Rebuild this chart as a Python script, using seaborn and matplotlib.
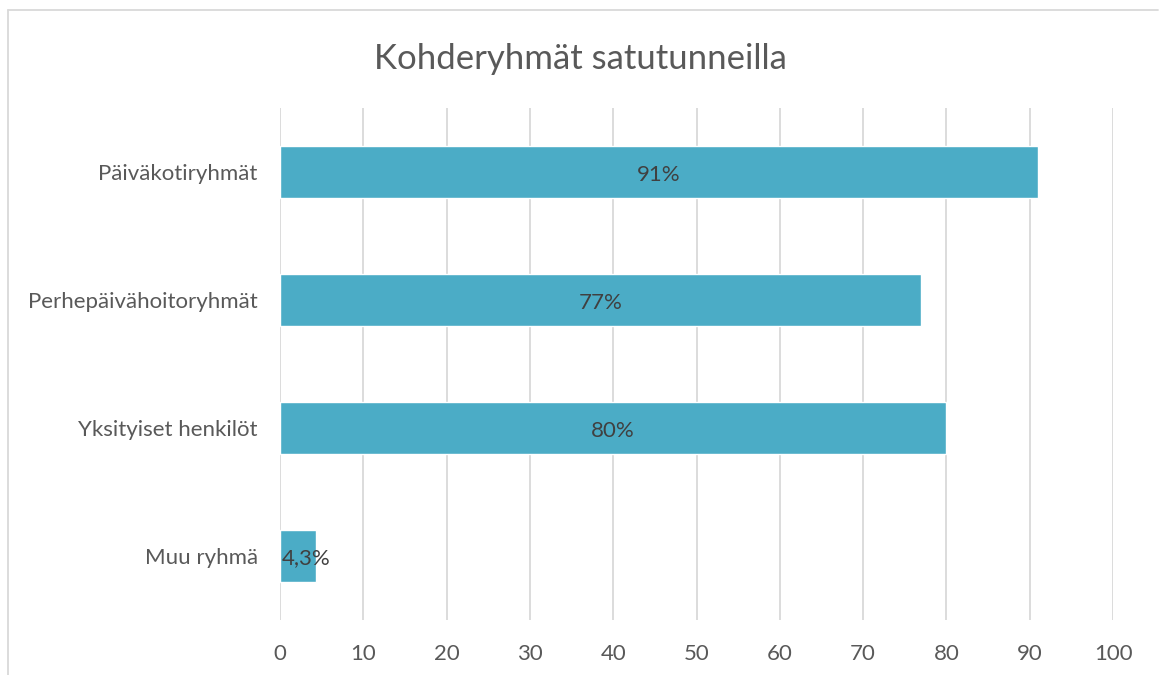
import matplotlib
matplotlib.use("Agg")
import matplotlib.pyplot as plt
import seaborn as sns
import pandas as pd
from matplotlib.lines import Line2D

categories = ["Päiväkotiryhmät", "Perhepäivähoitoryhmät", "Yksityiset henkilöt", "Muu ryhmä"]
values = [91, 77, 80, 4.3]
value_labels = ["91%", "77%", "80%", "4,3%"]
xticks = [0, 10, 20, 30, 40, 50, 60, 70, 80, 90, 100]
title = "Kohderyhmät satutunneilla"

sns.set_theme(style="white")
plt.rcParams['font.family'] = ['Lato', 'DejaVu Sans']

df = pd.DataFrame({"cat": categories, "val": values})

fig = plt.figure(figsize=(11.6, 6.75), dpi=100)
ax = fig.add_axes([0.2414, 0.0815, 0.7181, 0.7585])

sns.barplot(data=df, y="cat", x="val", orient="h", color="#4BACC6",
            saturation=1, width=0.4, ax=ax, zorder=3)

ax.set_xlim(0, 100)
ax.set_xticks(xticks)
ax.set_xticklabels([str(t) for t in xticks], fontsize=16, color="#595959")
ax.tick_params(axis="y", labelsize=16, labelcolor="#595959", length=0, pad=16)
ax.tick_params(axis="x", length=0, pad=17)
ax.set_xlabel("")
ax.set_ylabel("")
ax.grid(axis="x", color="#D9D9D9", linewidth=1.3, zorder=0)
ax.set_axisbelow(True)
for s in ax.spines.values():
    s.set_visible(False)

for i, (v, lab) in enumerate(zip(values, value_labels)):
    xpos = v / 2 if v > 10 else v / 2 + 1
    ax.text(xpos, i + 0.02, lab, ha="center", va="center", fontsize=16, color="#404040", zorder=4)

fig.text(0.5, 0.913, title, ha="center", va="center", fontsize=25, color="#595959")

# chart frame
fig.add_artist(Line2D([8/1160, 1158/1160], [1 - 10/675, 1 - 10/675], transform=fig.transFigure,
                      color="#D9D9D9", linewidth=1.3))
fig.add_artist(Line2D([8/1160, 8/1160], [0, 1 - 10/675], transform=fig.transFigure,
                      color="#D9D9D9", linewidth=1.3))

fig.savefig("out.png", dpi=100, facecolor="white")
